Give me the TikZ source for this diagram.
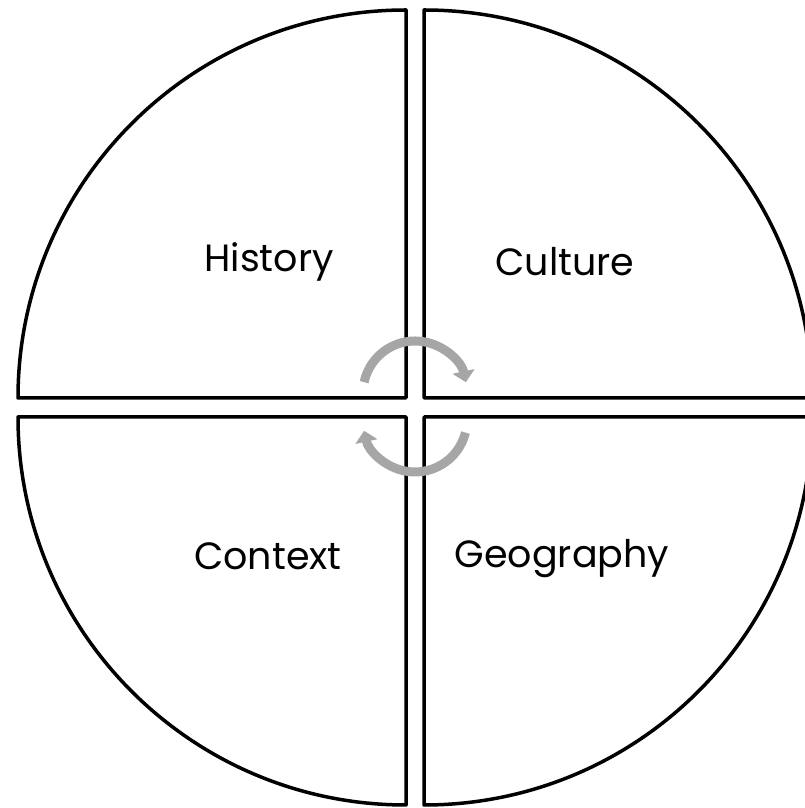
\documentclass[tikz,border=0pt]{standalone}
\usepackage{fontspec}
\setmainfont{Poppins}
\usetikzlibrary{arrows.meta}
\definecolor{arrowgrey}{HTML}{A6A6A6}

\begin{document}
\begin{tikzpicture}[x=1pt, y=1pt,
  sector/.style={draw=black, line width=3.5pt, line join=round},
  turn/.style={draw=arrowgrey, line width=9pt, -{Triangle[length=11pt, width=22pt]}},
  topic/.style={font=\fontsize{38}{44}\selectfont}]

  \useasboundingbox (0,0) rectangle (805,808);
  \clip (0,0) rectangle (805,808);

  % four quarters
  \draw[sector] (406,410) -- ++(0,388) arc[start angle=90, end angle=180, radius=388] -- cycle;
  \draw[sector] (424,410) -- ++(0,388) arc[start angle=90, end angle=0, radius=388] -- cycle;
  \draw[sector] (406,391) -- ++(0,-388) arc[start angle=270, end angle=180, radius=388] -- cycle;
  \draw[sector] (424,391) -- ++(0,-388) arc[start angle=270, end angle=360, radius=388] -- cycle;

  \node[topic] (history) at (269,546) {History};
  \node[topic] (culture) at (565,546) {Culture};
  \node[topic] (context) at (268,252) {Context};
  \node[topic] (geography) at (562,249) {Geography};

  % cycle arrows
  \draw[turn] (415,415) ++(168:52) arc[start angle=168, end angle=12, radius=52];
  \draw[turn] (415,388) ++(-14:52) arc[start angle=-14, end angle=-168, radius=52];
\end{tikzpicture}
\end{document}
